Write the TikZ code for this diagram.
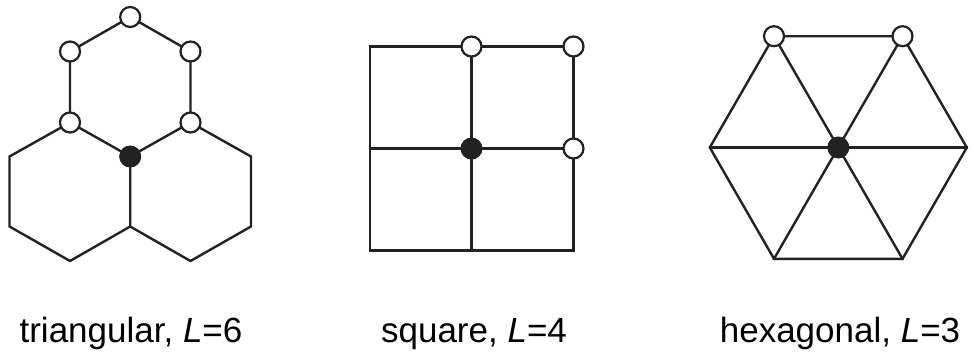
\documentclass[tikz,border=0pt]{standalone}
\usepackage{fontspec}
\setmainfont{Liberation Sans}
\definecolor{ink}{HTML}{222222}
\begin{document}
\begin{tikzpicture}[x=1pt,y=-1pt,
  edge/.style={draw=ink,line width=2.4pt,line join=miter,line cap=rect},
  opendot/.style={circle,draw=ink,line width=2.2pt,fill=white,minimum size=20pt,inner sep=0pt},
  fulldot/.style={circle,draw=ink,line width=1pt,fill=ink,minimum size=21pt,inner sep=0pt},
  lbl/.style={anchor=base,inner sep=0pt,font=\fontsize{35}{42}\selectfont}]
\useasboundingbox (0,0) rectangle (974,360);
% ---------- triangular ----------
\coordinate (T) at (130.2,17);
\coordinate (UL) at (70,51.5);
\coordinate (UR) at (190.5,51.5);
\coordinate (ML) at (70,122.5);
\coordinate (MR) at (190.5,122.5);
\coordinate (C) at (130.2,156.5);
\coordinate (LL1) at (9.5,156.5);
\coordinate (LL2) at (9.5,226.5);
\coordinate (LB) at (70,261);
\coordinate (CB) at (130.2,226.5);
\coordinate (RR1) at (251,156.5);
\coordinate (RR2) at (251,226.5);
\coordinate (RB) at (190.5,261);
\draw[edge] (ML) -- (UL) -- (T) -- (UR) -- (MR);
\draw[edge] (ML) -- (C) -- (MR);
\draw[edge] (ML) -- (LL1) -- (LL2) -- (LB) -- (CB) -- (C);
\draw[edge] (MR) -- (RR1) -- (RR2) -- (RB) -- (CB);
\node[opendot] (nT) at (T) {};
\node[opendot] (nUL) at (UL) {};
\node[opendot] (nUR) at (UR) {};
\node[opendot] (nML) at (ML) {};
\node[opendot] (nMR) at (MR) {};
\node[fulldot] (nC) at (C) {};
% ---------- square ----------
\coordinate (S1) at (370,46.5);
\coordinate (S2) at (573.5,46.5);
\coordinate (S3) at (573.5,250.5);
\coordinate (S4) at (370,250.5);
\coordinate (ST) at (471.5,46.5);
\coordinate (SB) at (471.5,250.5);
\coordinate (SL) at (370,148.5);
\coordinate (SR) at (573.5,148.5);
\coordinate (SC) at (471.5,148.5);
\draw[edge] (S1) -- (S2) -- (S3) -- (S4) -- cycle;
\draw[edge] (ST) -- (SB);
\draw[edge] (SL) -- (SR);
\node[opendot] (nST) at (ST) {};
\node[opendot] (nS2) at (S2) {};
\node[opendot] (nSR) at (SR) {};
\node[fulldot] (nSC) at (SC) {};
% ---------- hexagonal ----------
\coordinate (HC) at (838.3,147.5);
\coordinate (H0) at (966.8,147.5);
\coordinate (H1) at (902.5,36.2);
\coordinate (H2) at (774,36.2);
\coordinate (H3) at (709.8,147.5);
\coordinate (H4) at (774,258.8);
\coordinate (H5) at (902.5,258.8);
\draw[edge] (H0) -- (H1) -- (H2) -- (H3) -- (H4) -- (H5) -- cycle;
\draw[edge] (H0) -- (H3);
\draw[edge] (H1) -- (H4);
\draw[edge] (H2) -- (H5);
\node[opendot] (nH1) at (H1) {};
\node[opendot] (nH2) at (H2) {};
\node[fulldot] (nHC) at (HC) {};
% ---------- labels ----------
\node[lbl] (l1) at (131,342) {triangular, \textit{L}=6};
\node[lbl] (l2) at (474,342) {square, \textit{L}=4};
\node[lbl] (l3) at (840,342) {hexagonal, \textit{L}=3};
\end{tikzpicture}
\end{document}
